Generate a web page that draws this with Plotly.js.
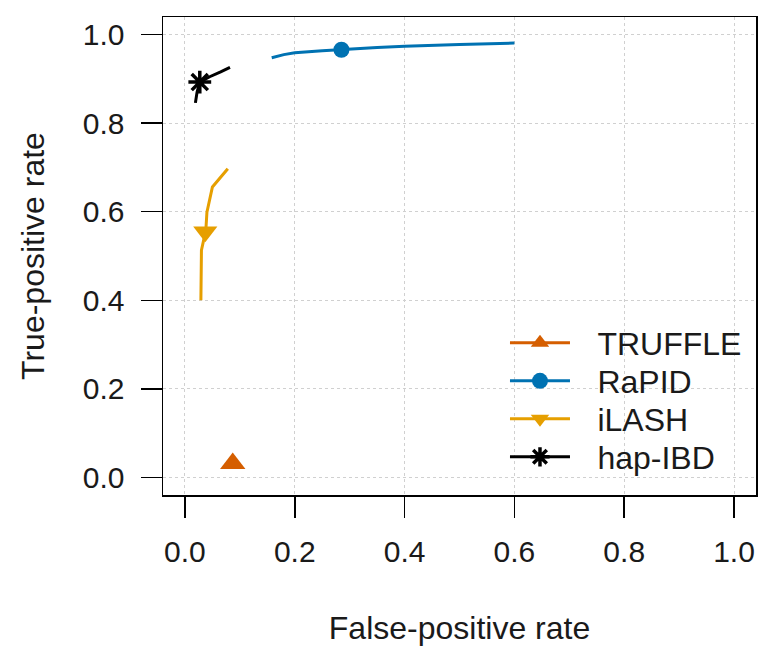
<!DOCTYPE html>
<html>
<head>
<meta charset="utf-8">
<script src="https://cdn.plot.ly/plotly-3.0.1.min.js"></script>
<style>html,body{margin:0;padding:0;background:#fff;}#chart{width:760px;height:648px;}</style>
</head>
<body>
<div id="chart"></div>
<script>
// Data
const truffleFPR = [0.087];
const truffleTPR = [0.031];

const rapidFPR = [0.158, 0.18, 0.20, 0.25, 0.35, 0.40, 0.50, 0.60];
const rapidTPR = [0.948, 0.955, 0.959, 0.964, 0.971, 0.974, 0.978, 0.981];
const rapidMarkFPR = [0.285];
const rapidMarkTPR = [0.966];

const ilashFPR = [0.029, 0.029, 0.030, 0.038, 0.040, 0.050, 0.078];
const ilashTPR = [0.400, 0.453, 0.513, 0.558, 0.599, 0.656, 0.697];
const ilashMarkFPR = [0.037];
const ilashMarkTPR = [0.555];

const hapFPR = [0.019, 0.022, 0.027, 0.045, 0.065, 0.082];
const hapTPR = [0.846, 0.870, 0.893, 0.905, 0.916, 0.926];
const hapMarkFPR = [0.027];
const hapMarkTPR = [0.893];

const names = ["TRUFFLE", "RaPID", "iLASH", "hap-IBD"];
const colors = ["#D55E00", "#0072B2", "#E69F00", "#000000"];
const tickVals = [0, 0.2, 0.4, 0.6, 0.8, 1.0];
const tickText = ["0.0", "0.2", "0.4", "0.6", "0.8", "1.0"];

const FONT = "Liberation Sans, Arial, Helvetica, sans-serif";
const LW = 3;
const pad = "\u2002\u2009";
const traces = [
  // line parts (no legend)
  {x: rapidFPR, y: rapidTPR, mode: "lines", line: {color: colors[1], width: LW}, showlegend: false, hoverinfo: "skip"},
  {x: ilashFPR, y: ilashTPR, mode: "lines", line: {color: colors[2], width: LW}, showlegend: false, hoverinfo: "skip"},
  {x: hapFPR, y: hapTPR, mode: "lines", line: {color: colors[3], width: LW}, showlegend: false, hoverinfo: "skip"},
  // markers with legend entries
  {x: truffleFPR, y: truffleTPR, name: pad + names[0], mode: "lines+markers", legend: "legend",
   line: {color: colors[0], width: LW}, marker: {symbol: "triangle-up", size: 22, color: colors[0]}},
  {x: rapidMarkFPR, y: rapidMarkTPR, name: pad + names[1], mode: "lines+markers", legend: "legend2",
   line: {color: colors[1], width: LW}, marker: {symbol: "circle", size: 16, color: colors[1]}},
  {x: ilashMarkFPR, y: ilashMarkTPR, name: pad + names[2], mode: "lines+markers", legend: "legend3",
   line: {color: colors[2], width: LW}, marker: {symbol: "triangle-down", size: 21, color: colors[2]}},
  {x: hapMarkFPR, y: hapMarkTPR, name: pad + names[3], mode: "lines+markers", legend: "legend4",
   line: {color: colors[3], width: LW}, marker: {symbol: "asterisk-open", size: 19, color: colors[3], line: {color: colors[3], width: 3.5}}}
];

const axisCommon = {
  range: [-0.04, 1.04],
  tickvals: tickVals,
  ticktext: tickText,
  ticks: "outside",
  ticklen: 21,
  tickwidth: 1.5,
  tickcolor: "#000",
  showline: true,
  mirror: true,
  linecolor: "#000",
  linewidth: 1.5,
  showgrid: true,
  gridcolor: "#d0d0d0",
  griddash: "dot",
  gridwidth: 1,
  zeroline: false,
  tickfont: {family: FONT, size: 30, color: "#1a1a1a"},
  automargin: false,
  fixedrange: true
};

function leg(yc) {
  return {
    x: 0.5767, y: yc, xanchor: "left", yanchor: "middle",
    bgcolor: "rgba(255,255,255,0)",
    font: {family: FONT, size: 32, color: "#1a1a1a"},
    itemwidth: 60
  };
}

const layout = {
  width: 760,
  height: 648,
  margin: {l: 163, r: 4, t: 17, b: 153},
  paper_bgcolor: "#fff",
  plot_bgcolor: "#fff",
  font: {family: FONT, size: 30, color: "#1a1a1a"},
  xaxis: Object.assign({}, axisCommon, {
    ticklabelstandoff: 8,
    title: {text: "False-positive rate", font: {family: FONT, size: 32}, standoff: 50}
  }),
  yaxis: Object.assign({}, axisCommon, {
    ticklabelstandoff: 10,
    title: {text: "True-positive rate", font: {family: FONT, size: 32}, standoff: 28}
  }),
  legend: leg(0.318),
  legend2: leg(0.2385),
  legend3: leg(0.159),
  legend4: leg(0.0795),
  showlegend: true
};

Plotly.newPlot("chart", traces, layout, {staticPlot: true, displayModeBar: false});
</script>
</body>
</html>
